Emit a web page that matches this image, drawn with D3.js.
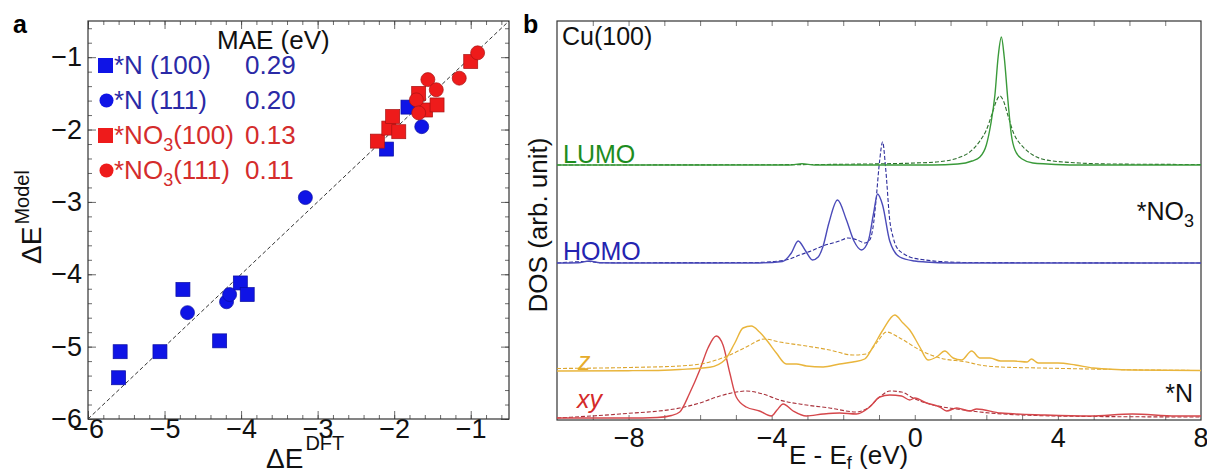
<!DOCTYPE html>
<html>
<head>
<meta charset="utf-8">
<script src="https://cdn.jsdelivr.net/npm/d3@7"></script>
<style>
  body { margin: 0; background: #fff; }
  text { font-family: "Liberation Sans", Arial, Helvetica, sans-serif; }
</style>
</head>
<body>
<svg id="fig" width="1207" height="473"></svg>
<script>
// ---- panel a: model vs DFT adsorption energies (eV)
const nSquare = [[-5.58,-5.07],[-5.6,-5.43],[-5.06,-5.07],[-4.76,-4.21],[-4.28,-4.92],
                 [-4.01,-4.12],[-3.92,-4.28],[-2.1,-2.27],[-1.82,-1.69]];
const nCircle = [[-4.7,-4.53],[-4.19,-4.38],[-4.15,-4.28],[-3.16,-2.94],[-1.64,-1.96]];
const no3Square = [[-2.22,-2.16],[-2.07,-1.98],[-2.02,-1.82],[-1.94,-2.03],[-1.68,-1.5],
                   [-1.59,-1.73],[-1.44,-1.66],[-1.0,-1.06]];
const no3Circle = [[-0.91,-0.94],[-1.15,-1.29],[-1.56,-1.31],[-1.45,-1.45],[-1.71,-1.59],[-1.68,-1.77]];
const maeLabels = ['0.29', '0.20', '0.13', '0.11'];
const aTicks = [-6, -5, -4, -3, -2, -1];

// ---- panel b: DOS curves [E - Ef, height], plus vertical offsets
const lumoSolid = [[-10,0],[-3.5,0],[-3.15,1.2],[-2.8,0],[0.5,0],[1.2,1],[1.6,4],[1.82,8],[2.0,20],
  [2.12,40],[2.24,70],[2.33,108],[2.42,128],[2.5,108],[2.6,66],[2.7,30],[2.8,15],[3.0,6],[3.3,2],
  [3.7,1],[4.5,0],[8,0]];
const lumoDash = [[-10,0],[-4,0.3],[-1.3,1],[0,2],[0.6,3],[1.2,7],[1.5,12],[1.82,24],[2.0,35],
  [2.15,50],[2.28,64],[2.38,69],[2.48,64],[2.6,50],[2.75,33],[3.03,18],[3.3,10],[3.68,5],[4.6,2],
  [5.5,1],[8,0.5]];
const homoSolid = [[-10,0],[-9.4,0.3],[-9.1,2],[-8.8,0.3],[-8,0],[-4.5,0],[-3.7,1.5],[-3.45,10],
  [-3.26,22],[-3.05,12],[-2.86,3],[-2.7,6],[-2.57,16],[-2.4,40],[-2.16,63],[-1.91,43],[-1.7,22],
  [-1.49,13],[-1.3,22],[-1.15,50],[-1.04,69],[-0.9,58],[-0.7,22],[-0.42,6],[0,2],[0.3,1],[1,0],[8,0]];
const homoDash = [[-10,0],[-9.1,1.5],[-8.8,0.3],[-4.5,0.5],[-3.92,1.5],[-3.5,4],[-3.22,8],[-2.9,12],
  [-2.57,17],[-2.1,22],[-1.87,25],[-1.6,23],[-1.4,20],[-1.26,23],[-1.15,40],[-1.09,60],[-0.98,103],
  [-0.9,121],[-0.81,93],[-0.7,43],[-0.6,25],[-0.51,16],[-0.3,9],[-0.14,6],[0.3,3],[0.7,1.5],[1.5,0.5],[8,0]];
const zSolid = [[-10,0],[-8,0.3],[-7,0.8],[-6.57,1.5],[-5.73,3.7],[-5.31,11],[-5.03,28],[-4.8,43],
  [-4.57,45],[-4.34,39],[-4.1,29],[-3.87,18],[-3.59,7],[-3.31,7],[-3.03,5],[-2.56,4],[-2.1,7],
  [-1.73,9],[-1.4,12],[-1.17,24],[-0.89,41],[-0.56,56],[-0.33,48],[-0.14,41],[0.14,24],[0.37,11],
  [0.61,14],[0.84,20],[1.07,13],[1.31,11],[1.59,20],[1.82,13],[2.1,13],[2.4,10],[2.77,10],[3.14,9],
  [3.26,12],[3.45,8],[4.0,8],[4.49,6],[4.99,3],[6.08,1],[8,0.5]];
const zDash = [[-10,2.5],[-8,3.5],[-6.57,5],[-5.73,9],[-5.17,16],[-4.71,24],[-4.2,32],[-3.78,29],
  [-3.03,25],[-2.38,21],[-1.73,16],[-1.35,17],[-1.07,28],[-0.79,39],[-0.42,33],[0.14,21],[0.7,13],
  [1.45,9],[1.82,6],[2.4,4],[3.5,3],[4.9,2],[6.5,1],[8,0.5]];
const xySolid = [[-10,0],[-8,0],[-7.2,0.5],[-6.8,2.5],[-6.57,6],[-6.29,25],[-6.01,48],[-5.78,70],
  [-5.55,82],[-5.36,73],[-5.17,45],[-4.99,21],[-4.71,11],[-4.34,7],[-4.01,2],[-3.85,8],[-3.68,14],
  [-3.4,7],[-3.03,2],[-2.56,4],[-2.1,5],[-1.63,4],[-1.26,11],[-0.98,21],[-0.7,23],[-0.37,22],
  [-0.14,18],[0,20],[0.33,15],[0.7,11],[0.89,7],[1.17,10],[1.54,7],[1.73,9],[2.4,5],[3.64,3],
  [4.9,2],[6.08,4],[7.3,2],[8,2]];
const xyDash = [[-10,0],[-8.25,4],[-6.57,10],[-6.01,15],[-5.45,22],[-4.99,26],[-4.71,27],[-4.25,24],
  [-3.78,18],[-3.03,13],[-2.38,10],[-1.63,6],[-1.31,10],[-0.98,21],[-0.7,27],[-0.37,26],[-0.05,20],
  [0.51,13],[1.17,9],[1.82,6],[3,3],[5,1.5],[8,1]];
const curveOffsets = { lumo: 255, homo: 157, z: 49, xy: 2 };
const bTicks = [-8, -4, 0, 4, 8];

const svg = d3.select('#fig');
const blue = '#0f14e6', red = '#ee1b1b';

// ================= panel a =================
const ax = { left: 88, right: 509, top: 21, bottom: 419 };
const xA = d3.scaleLinear().domain([-6, -0.5]).range([ax.left, ax.right]);
const yA = d3.scaleLinear().domain([-6, -0.5]).range([ax.bottom, ax.top]);
const minorA = d3.range(-6, -0.49, 0.2);

const gA = svg.append('g');

function tickAxis(axisFn, scale, vals, size, tr) {
  const a = axisFn(scale).tickValues(vals).tickSize(size).tickFormat('');
  const g = gA.append('g').attr('transform', tr).call(a);
  g.select('.domain').remove();
  g.selectAll('line').attr('stroke', '#444').attr('stroke-width', 0.8);
  return g;
}
// minor then major ticks on all four sides (inward)
tickAxis(d3.axisBottom, xA, minorA, -4, `translate(0,${ax.bottom})`);
tickAxis(d3.axisTop, xA, minorA, -4, `translate(0,${ax.top})`);
tickAxis(d3.axisLeft, yA, minorA, -4, `translate(${ax.left},0)`);
tickAxis(d3.axisRight, yA, minorA, -4, `translate(${ax.right},0)`);
tickAxis(d3.axisTop, xA, aTicks, -8, `translate(0,${ax.top})`);
tickAxis(d3.axisRight, yA, aTicks, -8, `translate(${ax.right},0)`);
const fmtMinus = d => d3.format('d')(d).replace('-', '−');
const xAxisA = d3.axisBottom(xA).tickValues(aTicks).tickSize(-8).tickPadding(0).tickFormat(fmtMinus);
const gxA = gA.append('g').attr('transform', `translate(0,${ax.bottom})`).call(xAxisA);
const yAxisA = d3.axisLeft(yA).tickValues(aTicks).tickSize(-8).tickPadding(6).tickFormat(fmtMinus);
const gyA = gA.append('g').attr('transform', `translate(${ax.left},0)`).call(yAxisA);
[gxA, gyA].forEach(g => {
  g.select('.domain').remove();
  g.selectAll('line').attr('stroke', '#444').attr('stroke-width', 0.8);
  g.selectAll('text').attr('font-size', 27).attr('fill', '#111')
    .style('font-family', '"Liberation Sans", Arial, sans-serif');
});

gA.append('rect').attr('x', ax.left).attr('y', ax.top)
  .attr('width', ax.right - ax.left).attr('height', ax.bottom - ax.top)
  .attr('fill', 'none').attr('stroke', '#333').attr('stroke-width', 1.2);

// parity line
gA.append('line')
  .attr('x1', xA(-6)).attr('y1', yA(-6)).attr('x2', xA(-0.5)).attr('y2', yA(-0.5))
  .attr('stroke', '#333').attr('stroke-width', 1).attr('stroke-dasharray', '4,2.5');

function squares(data, col) {
  gA.append('g').selectAll('rect').data(data).join('rect')
    .attr('x', d => xA(d[0]) - 7).attr('y', d => yA(d[1]) - 7)
    .attr('width', 14).attr('height', 14)
    .attr('fill', col).attr('stroke', d3.color(col).darker(1)).attr('stroke-width', 0.7);
}
function circles(data, col) {
  gA.append('g').selectAll('circle').data(data).join('circle')
    .attr('cx', d => xA(d[0])).attr('cy', d => yA(d[1])).attr('r', 7)
    .attr('fill', col).attr('stroke', d3.color(col).darker(1)).attr('stroke-width', 0.7);
}
squares(nSquare, blue);
circles(nCircle, blue);
squares(no3Square, red);
circles(no3Circle, red);

// legend
const txtBlue = '#2a2aa6', txtRed = '#d42c2c';
gA.append('text').attr('x', 217).attr('y', 49).attr('font-size', 26).attr('fill', '#111').text('MAE (eV)');
const legRows = [
  { shape: 'sq', col: blue, tc: txtBlue, main: '*N (100)' },
  { shape: 'ci', col: blue, tc: txtBlue, main: '*N (111)' },
  { shape: 'sq', col: red, tc: txtRed, main: '*NO', tail: '(100)' },
  { shape: 'ci', col: red, tc: txtRed, main: '*NO', tail: '(111)' }
];
legRows.forEach((r, i) => {
  const base = 74 + i * 35;
  if (r.shape === 'sq') {
    gA.append('rect').attr('x', 98).attr('y', base - 16).attr('width', 15).attr('height', 15).attr('fill', r.col);
  } else {
    gA.append('circle').attr('cx', 106.5).attr('cy', base - 8.5).attr('r', 7).attr('fill', r.col);
  }
  const t = gA.append('text').attr('x', 114).attr('y', base).attr('font-size', 26).attr('fill', r.tc);
  t.append('tspan').text(r.main);
  if (r.tail) {
    t.append('tspan').attr('font-size', 18).attr('dy', 7).text('3');
    t.append('tspan').attr('dy', -7).text(r.tail);
  }
  gA.append('text').attr('x', 245).attr('y', base).attr('font-size', 26).attr('fill', r.tc).text(maeLabels[i]);
});

// axis titles
const xt = gA.append('text').attr('x', 266).attr('y', 468).attr('font-size', 28).attr('fill', '#111');
xt.append('tspan').text('ΔE');
xt.append('tspan').attr('font-size', 20).attr('dx', 2).attr('dy', -18).text('DFT');
const yt = gA.append('text').attr('transform', 'translate(41,264) rotate(-90)')
  .attr('font-size', 28).attr('fill', '#111');
yt.append('tspan').text('ΔE');
yt.append('tspan').attr('font-size', 20).attr('dx', 2).attr('dy', -12).text('Model');

svg.append('text').attr('x', 13).attr('y', 33).attr('font-size', 25).attr('font-weight', 'bold').text('a');

// ================= panel b =================
const bx = { left: 557, right: 1201, top: 21, bottom: 420 };
const xB = d3.scaleLinear().domain([-10, 8]).range([bx.left, bx.right]);
const yB = d3.scaleLinear().domain([0, 399]).range([bx.bottom, bx.top]);
const gB = svg.append('g');

const minorB = d3.range(-9, 8, 1);
[[d3.axisBottom, bx.bottom], [d3.axisTop, bx.top]].forEach(([fn, yPos]) => {
  const g = gB.append('g').attr('transform', `translate(0,${yPos})`)
    .call(fn(xB).tickValues(minorB).tickSize(-5).tickFormat(''));
  g.select('.domain').remove();
  g.selectAll('line').attr('stroke', '#555').attr('stroke-width', 0.8);
});
const xAxisB = d3.axisBottom(xB).tickValues(bTicks).tickSize(0).tickPadding(8).tickFormat(fmtMinus);
const gxB = gB.append('g').attr('transform', `translate(0,${bx.bottom})`).call(xAxisB);
gxB.select('.domain').remove();
gxB.selectAll('text').attr('font-size', 27).attr('fill', '#111')
  .style('font-family', '"Liberation Sans", Arial, sans-serif');
gxB.selectAll('.tick').filter(d => d === 8).select('text').attr('text-anchor', 'end').attr('dx', 7);

gB.append('rect').attr('x', bx.left).attr('y', bx.top)
  .attr('width', bx.right - bx.left).attr('height', bx.bottom - bx.top)
  .attr('fill', 'none').attr('stroke', '#333').attr('stroke-width', 1.2);

const clip = svg.append('clipPath').attr('id', 'clipB');
clip.append('rect').attr('x', bx.left).attr('y', bx.top)
  .attr('width', bx.right - bx.left).attr('height', bx.bottom - bx.top);

function dosLine(off) {
  return d3.line().x(d => xB(d[0])).y(d => yB(d[1] + off)).curve(d3.curveMonotoneX);
}
const curves = [
  { data: xyDash, off: curveOffsets.xy, col: '#a8303a', dash: true },
  { data: xySolid, off: curveOffsets.xy, col: '#d5474b', dash: false },
  { data: zDash, off: curveOffsets.z, col: '#dca52e', dash: true },
  { data: zSolid, off: curveOffsets.z, col: '#e9b53c', dash: false },
  { data: homoDash, off: curveOffsets.homo, col: '#2e2e9c', dash: true },
  { data: homoSolid, off: curveOffsets.homo, col: '#4b4bb9', dash: false },
  { data: lumoDash, off: curveOffsets.lumo, col: '#2b6f2b', dash: true },
  { data: lumoSolid, off: curveOffsets.lumo, col: '#3a9a3a', dash: false }
];
gB.append('g').attr('clip-path', 'url(#clipB)').selectAll('path').data(curves).join('path')
  .attr('d', c => dosLine(c.off)(c.data))
  .attr('fill', 'none').attr('stroke', c => c.col)
  .attr('stroke-width', c => c.dash ? 1.1 : 1.4)
  .attr('stroke-dasharray', c => c.dash ? '4,2' : null);

// labels
gB.append('text').attr('x', 562).attr('y', 45).attr('font-size', 25).attr('fill', '#111').text('Cu(100)');
gB.append('text').attr('x', 563).attr('y', 163).attr('font-size', 25).attr('fill', '#1e8c1e').text('LUMO');
gB.append('text').attr('x', 563).attr('y', 260).attr('font-size', 25).attr('fill', '#2424b0').text('HOMO');
gB.append('text').attr('x', 578).attr('y', 370).attr('font-size', 25).attr('font-style', 'italic').attr('fill', '#e6ac2a').text('z');
gB.append('text').attr('x', 577).attr('y', 408).attr('font-size', 25).attr('font-style', 'italic').attr('fill', '#d42a2a').text('xy');
gB.append('text').attr('x', 1193).attr('y', 402).attr('font-size', 25).attr('text-anchor', 'end').attr('fill', '#111').text('*N');
const no3 = gB.append('text').attr('x', 1194).attr('y', 220).attr('font-size', 25).attr('text-anchor', 'end').attr('fill', '#111');
no3.append('tspan').text('*NO');
no3.append('tspan').attr('font-size', 18).attr('dy', 7).text('3');

const xl = gB.append('text').attr('x', 789).attr('y', 464).attr('font-size', 26).attr('fill', '#111');
xl.append('tspan').text('E - E');
xl.append('tspan').attr('font-size', 18).attr('dy', 5).text('f');
xl.append('tspan').attr('dy', -5).text(' (eV)');
gB.append('text').attr('transform', 'translate(547,225) rotate(-90)').attr('text-anchor', 'middle')
  .attr('font-size', 26).attr('fill', '#111').text('DOS (arb. unit)');

svg.append('text').attr('x', 523).attr('y', 33).attr('font-size', 25).attr('font-weight', 'bold').text('b');
</script>
</body>
</html>
